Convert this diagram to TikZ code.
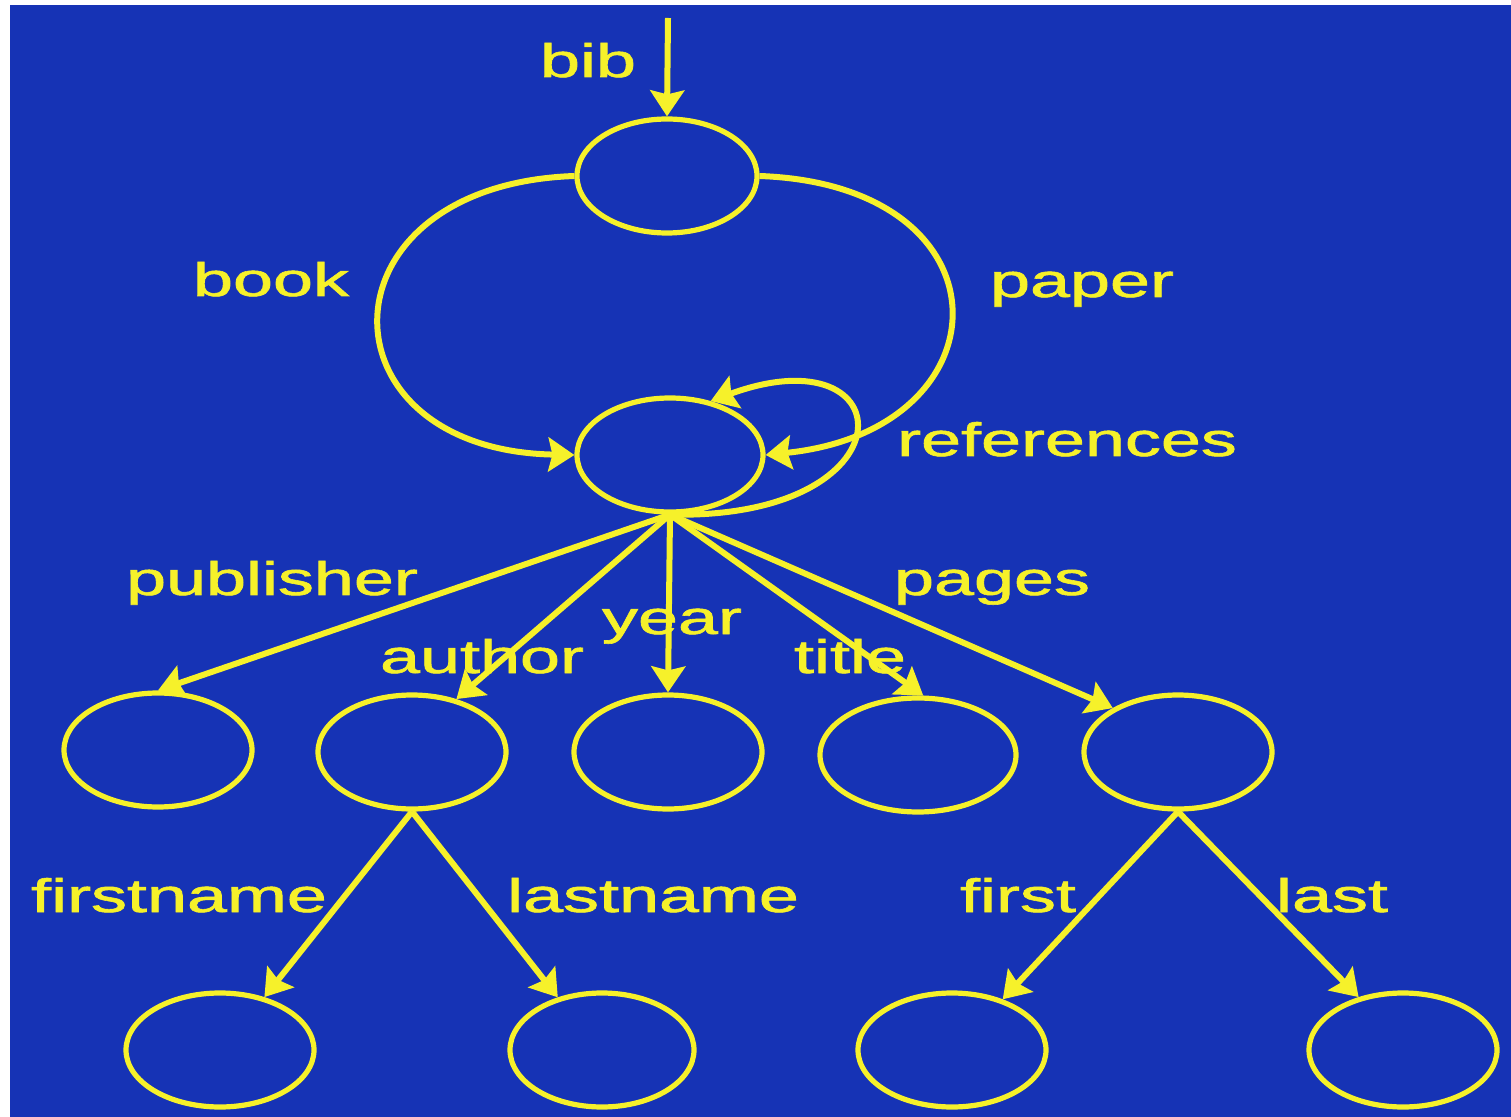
\documentclass[tikz,border=0pt]{standalone}
\usepackage{fontspec}
\usepackage{graphicx}
\setmainfont{Liberation Sans}
\newfontfamily\lblfont{Liberation Sans}[RawFeature={embolden=1.2}]
\usetikzlibrary{arrows.meta,shapes.geometric}
\definecolor{bgblue}{RGB}{22,51,181}
\definecolor{ylw}{RGB}{246,241,42}
\newcommand\widetext[1]{\scalebox{1.53}[1]{#1}}

\begin{document}
\begin{tikzpicture}[x=0.5pt,y=-0.5pt,
  state/.style={ellipse, draw=ylw, line width=2.6pt, minimum width=94pt,
                minimum height=57pt, inner sep=0pt},
  lbl/.style={text=ylw, font=\lblfont\fontsize{23.5}{28}\selectfont, inner sep=0pt, anchor=base},
  arr/.style={draw=ylw, line width=3pt,
              -{Stealth[length=13pt,width=17pt,inset=2pt]}}]

% page and blue panel
\fill[white] (0,0) rectangle (1511,1117);
\fill[bgblue] (10,5) rectangle (1511,1117);
\useasboundingbox (0,0) rectangle (1511,1117);

% states
\node[state, minimum width=90pt] (root) at (667,176) {};
\node[state, minimum width=93pt] (mid) at (670,455) {};
\node[state] (pub)  at (158,750) {};
\node[state] (auth) at (412,752) {};
\node[state] (yr)   at (668,752) {};
\node[state, minimum width=98pt] (tit) at (918,755) {};
\node[state] (pag)  at (1178,752) {};
\node[state] (fn)   at (220,1050) {};
\node[state, minimum width=92pt] (ln) at (602,1050) {};
\node[state] (fi)   at (952,1050) {};
\node[state] (la)   at (1403,1050) {};

% entry point
\coordinate (entry) at (668,18);
\draw[arr] (entry) -- (root.north);

% top level edges
\draw[arr] (root.west) .. controls (315,185) and (315,450) .. (mid.west);
\draw[arr] (root.east) .. controls (1015,185) and (1010,430) .. (mid.east);
\draw[arr] (mid.south) .. controls (915,520) and (905,330) .. (mid.53);

% fields
\draw[arr] (mid.south) -- (pub.north);
\draw[arr] (mid.south) -- (auth.50);
\draw[arr] (mid.south) -- (yr.north);
\draw[arr] (mid.south) -- (tit.85);
\draw[arr] (mid.south) -- (pag.146);

% sub-fields
\draw[arr] (auth.south) -- (fn.50);
\draw[arr] (auth.south) -- (ln.130);
\draw[arr] (pag.south) -- (fi.45);
\draw[arr] (pag.south) -- (la.130);

% labels
\node[lbl] (lbib)   at (588,77)   {\widetext{bib}};
\node[lbl] (lbook)  at (271,296)  {\widetext{book}};
\node[lbl] (lpaper) at (1082,297) {\widetext{paper}};
\node[lbl] (lrefs)  at (1067,456) {\widetext{references}};
\node[lbl] (lpub)   at (272,595)  {\widetext{publisher}};
\node[lbl] (lpages) at (992,595)  {\widetext{pages}};
\node[lbl] (lyear)  at (672,634)  {\widetext{year}};
\node[lbl] (lauth)  at (482,673)  {\widetext{author}};
\node[lbl] (ltitle) at (850,673)  {\widetext{title}};
\node[lbl] (lfn)    at (179,912)  {\widetext{firstname}};
\node[lbl] (lln)    at (653,912)  {\widetext{lastname}};
\node[lbl] (lfi)    at (1018,912) {\widetext{first}};
\node[lbl] (lla)    at (1332,912) {\widetext{last}};
\end{tikzpicture}
\end{document}
